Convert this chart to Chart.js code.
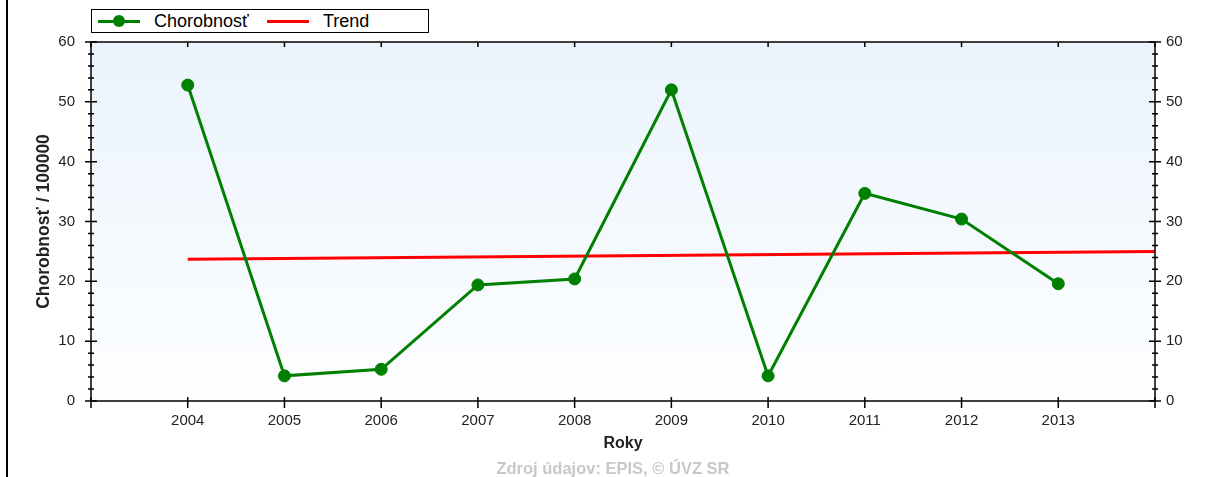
<!DOCTYPE html>
<html>
<head>
<meta charset="utf-8">
<script src="https://cdn.jsdelivr.net/npm/chart.js@4.4.1/dist/chart.umd.min.js"></script>
<style>
  html, body { margin: 0; padding: 0; background: #fff; }
  #wrap { position: relative; width: 1214px; height: 477px; overflow: hidden; font-family: "Liberation Sans", Arial, sans-serif; }
  #graf { position: absolute; left: 0; top: 0; }
  .okraj { position: absolute; left: 6px; top: 0; width: 2px; height: 477px; background: #000; }
  #legenda { position: absolute; left: 91px; top: 9px; width: 330px; height: 22px; border: 1px solid #000; background: #fff;
             display: flex; align-items: center; padding-left: 6px; box-sizing: content-box; }
  .lg-symbol { position: relative; width: 42px; height: 22px; flex: none; }
  .lg-ciara { position: absolute; left: 0; right: 0; top: 10px; height: 3px; }
  .lg-bod { position: absolute; left: 15px; top: 5px; width: 12px; height: 12px; border-radius: 50%; }
  .lg-text { font-size: 18px; color: #000; margin-left: 14px; width: 113px; flex: none; line-height: 22px; white-space: nowrap; }
  #zdroj { position: absolute; left: 6px; width: 1214px; top: 459px; text-align: center; font-size: 16.5px; font-weight: bold; color: #c8c8c8; line-height: 18px; }
</style>
</head>
<body>
<div id="wrap">
  <canvas id="graf" width="1214" height="477"></canvas>
  <div class="okraj"></div>
  <div id="legenda"></div>
  <div id="zdroj">Zdroj údajov: EPIS, © ÚVZ SR</div>
</div>
<script>
// ── Údaje ─────────────────────────────────
const roky        = [2004, 2005, 2006, 2007, 2008, 2009, 2010, 2011, 2012, 2013];
const chorobnost  = [52.8, 4.2, 5.3, 19.4, 20.4, 52.0, 4.2, 34.7, 30.4, 19.6];
const trendRoky   = [2004, 2014];
const trendHodnoty = [23.7, 25.0];

const xMin = 2003, xMax = 2014;
const yMin = 0, yMax = 60, yKrok = 10;

const FONT = '"Liberation Sans", Arial, sans-serif';
const ZELENA = '#008000';
const CERVENA = '#ff0000';

// ── Pozadie, rám a značky na osiach ───────
const ramPlugin = {
  id: 'ram',
  beforeDraw(chart) {
    const { ctx, chartArea: a } = chart;
    const g = ctx.createLinearGradient(0, a.top, 0, a.bottom);
    g.addColorStop(0, '#eaf3fc');
    g.addColorStop(1, '#fdfeff');
    ctx.save();
    ctx.fillStyle = g;
    ctx.fillRect(a.left, a.top, a.right - a.left, a.bottom - a.top);
    ctx.restore();
  },
  afterDatasetsDraw(chart) {
    const { ctx, chartArea: a, scales } = chart;
    ctx.save();
    ctx.strokeStyle = '#000';
    ctx.lineWidth = 1.5;
    ctx.strokeRect(a.left, a.top, a.right - a.left, a.bottom - a.top);
    ctx.beginPath();
    for (let v = yMin; v <= yMax; v += 2) {
      const y = scales.y.getPixelForValue(v);
      const d = v % yKrok === 0 ? 6 : 3;
      ctx.moveTo(a.left - d, y);  ctx.lineTo(a.left + d, y);
      ctx.moveTo(a.right - d, y); ctx.lineTo(a.right + d, y);
    }
    for (let r = xMin; r <= xMax; r++) {
      const x = scales.x.getPixelForValue(r);
      ctx.moveTo(x, a.bottom - 4); ctx.lineTo(x, a.bottom + 7);
      ctx.moveTo(x, a.top);        ctx.lineTo(x, a.top + 5);
    }
    ctx.stroke();
    ctx.restore();
  }
};

const osY = (pozicia, sirka, odsadenie) => ({
  type: 'linear',
  position: pozicia,
  min: yMin, max: yMax,
  border: { display: false },
  grid: { display: false, drawTicks: false },
  ticks: { stepSize: yKrok, padding: odsadenie, color: '#222', font: { size: 15, family: FONT } },
  afterFit: s => { s.width = sirka; }
});

const graf = new Chart(document.getElementById('graf').getContext('2d'), {
  type: 'line',
  data: {
    datasets: [
      {
        label: 'Chorobnosť',
        data: roky.map((r, i) => ({ x: r, y: chorobnost[i] })),
        borderColor: ZELENA, backgroundColor: ZELENA,
        borderWidth: 3, tension: 0,
        pointRadius: 6, pointBorderWidth: 1, pointBackgroundColor: ZELENA, pointBorderColor: ZELENA
      },
      {
        label: 'Trend',
        data: trendRoky.map((r, i) => ({ x: r, y: trendHodnoty[i] })),
        borderColor: CERVENA, backgroundColor: CERVENA,
        borderWidth: 3, pointRadius: 0, tension: 0
      }
    ]
  },
  options: {
    responsive: false,
    animation: false,
    layout: { padding: { top: 42, left: 0, right: 0, bottom: 0 } },
    plugins: { legend: { display: false }, tooltip: { enabled: false } },
    scales: {
      x: {
        type: 'linear',
        position: 'bottom',
        min: xMin, max: xMax,
        border: { display: false },
        grid: { display: false, drawTicks: false },
        ticks: {
          stepSize: 1, autoSkip: false, maxRotation: 0, padding: 11,
          color: '#222', font: { size: 15, family: FONT },
          callback: v => roky.includes(v) ? String(v) : ''
        },
        title: { display: true, text: 'Roky', color: '#222', font: { size: 16, weight: 'bold', family: FONT }, padding: { top: 0, bottom: 24 } },
        afterFit: s => { s.height = 76; }
      },
      y: Object.assign(osY('left', 91, 16), {
        title: { display: true, text: 'Chorobnosť / 100000', color: '#222', font: { size: 17.5, weight: 'bold', family: FONT }, padding: { top: 34, bottom: 0 } }
      }),
      y2: osY('right', 59, 11)
    }
  },
  plugins: [ramPlugin]
});

// ── Legenda ───────────────────────────────
const legenda = document.getElementById('legenda');
graf.data.datasets.forEach(ds => {
  const sym = document.createElement('span');
  sym.className = 'lg-symbol';
  sym.innerHTML = `<span class="lg-ciara" style="background:${ds.borderColor}"></span>` +
    (ds.pointRadius > 0 ? `<span class="lg-bod" style="background:${ds.borderColor}"></span>` : '');
  const txt = document.createElement('span');
  txt.className = 'lg-text';
  txt.textContent = ds.label;
  legenda.appendChild(sym);
  legenda.appendChild(txt);
});
</script>
</body>
</html>
